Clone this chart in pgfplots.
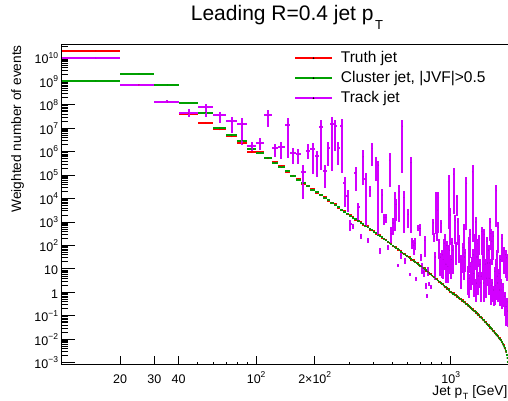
\documentclass[border=0pt]{standalone}
\usepackage{fontspec}
\setmainfont{Liberation Sans}
\usepackage{pgfplots}
\pgfplotsset{compat=1.18}
\usepackage{pgfplotstable}
\definecolor{rootred}{RGB}{255,0,0}
\definecolor{rootgreen}{RGB}{0,160,0}
\definecolor{rootmag}{RGB}{210,0,255}
\newcommand{\tsup}[1]{\raisebox{5.5bp}{\fontsize{8.5bp}{9bp}\selectfont #1}}

% bin centre, truth jet (r), cluster jet |JVF|>0.5 (g)
\pgfplotstableread{
x r g
15 2.04e10 1.07e9
25 7.08e8 2.09e9
35 1.35e8 7.08e8
45 4.17e7 1.23e8
55 1.74e7 4.57e7
65 8.91e6 1.02e7
75 4.47e6 5.13e6
85 2.29e6 2.95e6
95 9.33e5 1.29e6
105 9.53e5 8.91e5
115 5.13e5 5.37e5
125 3.46e5 3.39e5
135 2.41e5 2.19e5
145 1.38e5 1.48e5
155 9.55e4 9.55e4
165 6.91e4 6.46e4
175 4.36e4 4.57e4
185 3.38e4 3.31e4
195 2.64e4 2.40e4
205 1.69e4 1.82e4
215 1.38e4 1.38e4
225 1.14e4 1.07e4
235 8.13e3 8.51e3
245 6.74e3 6.61e3
255 5.78e3 5.25e3
265 3.88e3 4.17e3
275 3.39e3 3.39e3
285 2.94e3 2.75e3
295 2.14e3 2.24e3
305 1.90e3 1.86e3
315 1.71e3 1.55e3
325 1.20e3 1.29e3
335 1.10e3 1.10e3
345 998 933
355 758 794
365 690 676
375 648 589
385 466 501
395 437 437
405 407 380
415 316 331
425 294 288
435 276 251
445 204 219
455 191 191
465 178 166
475 138 145
485 129 126
495 123 112
505 90.9 97.7
515 87.1 87.1
525 83.0 77.6
535 66.1 69.2
545 62.9 61.7
555 60.5 55.0
565 45.6 49.0
575 43.7 43.7
585 42.6 39.8
595 33.9 35.5
605 33.0 32.4
615 31.7 28.8
625 24.5 26.3
635 24.0 24.0
645 23.4 21.9
655 19.1 20.0
665 18.6 18.2
675 18.3 16.6
685 14.0 15.1
695 13.8 13.8
705 13.5 12.6
715 11.0 11.5
725 10.7 10.5
735 10.5 9.55
745 8.10 8.71
755 7.94 7.94
765 7.75 7.24
775 6.31 6.61
785 6.15 6.03
795 6.05 5.50
805 4.77 5.13
815 4.68 4.68
825 4.57 4.27
835 3.71 3.89
845 3.70 3.63
855 3.64 3.31
865 2.81 3.02
875 2.82 2.82
885 2.75 2.57
895 2.29 2.40
905 2.23 2.19
915 2.24 2.04
925 1.73 1.86
935 1.74 1.74
945 1.69 1.58
955 1.41 1.48
965 1.38 1.35
975 1.39 1.26
985 1.07 1.15
995 1.07 1.07
1005 1.07 1.00
1015 0.912 0.955
1025 0.909 0.891
1035 0.936 0.851
1045 0.738 0.794
1055 0.759 0.759
1065 0.758 0.708
1075 0.646 0.676
1085 0.644 0.631
1095 0.648 0.589
1105 0.523 0.562
1115 0.525 0.525
1125 0.536 0.501
1135 0.447 0.468
1145 0.456 0.447
1155 0.459 0.417
1165 0.370 0.398
1175 0.372 0.372
1185 0.371 0.347
1195 0.316 0.331
1205 0.315 0.309
1215 0.325 0.295
1225 0.256 0.275
1235 0.263 0.263
1245 0.262 0.245
1255 0.223 0.234
1265 0.223 0.219
1275 0.224 0.204
1285 0.181 0.195
1295 0.182 0.182
1305 0.186 0.174
1315 0.155 0.162
1325 0.158 0.155
1335 0.160 0.145
1345 0.128 0.138
1355 0.129 0.129
1365 0.128 0.120
1375 0.110 0.115
1385 0.109 0.107
1395 0.112 0.102
1405 0.0888 0.0955
1415 0.0912 0.0912
1425 0.0911 0.0851
1435 0.0776 0.0813
1445 0.0774 0.0759
1455 0.0779 0.0708
1465 0.0629 0.0676
1475 0.0631 0.0631
1485 0.0645 0.0603
1495 0.0537 0.0562
1505 0.0548 0.0537
1515 0.0551 0.0501
1525 0.0445 0.0479
1535 0.0447 0.0447
1545 0.0446 0.0417
1555 0.0380 0.0398
1565 0.0379 0.0372
1575 0.0391 0.0355
1585 0.0308 0.0331
1595 0.0316 0.0316
1605 0.0316 0.0295
1615 0.0269 0.0282
1625 0.0268 0.0263
1635 0.0270 0.0245
1645 0.0218 0.0234
1655 0.0219 0.0219
1665 0.0224 0.0209
1675 0.0186 0.0195
1685 0.0190 0.0186
1695 0.0191 0.0174
1705 0.0154 0.0166
1715 0.0155 0.0155
1725 0.0155 0.0145
1735 0.0132 0.0138
1745 0.0132 0.0129
1755 0.0135 0.0123
1765 0.0107 0.0115
1775 0.0110 0.0110
1785 0.0109 0.0102
1795 0.00933 0.00977
1805 0.00930 0.00912
1815 0.00936 0.00851
1825 0.00738 0.00794
1835 0.00724 0.00724
1845 0.00707 0.00661
1855 0.00576 0.00603
1865 0.00561 0.00550
1875 0.00551 0.00501
1885 0.00425 0.00457
1895 0.00417 0.00417
1905 0.00398 0.00372
1915 0.00309 0.00324
1925 0.00275 0.00275
1935 nan 0.00219
1945 nan 0.00158
1955 nan 0.00105
1965 nan 0.00063
}\truthtab

% track jet: bin centre, value, relative upper and lower errors
\pgfplotstableread{
x y ep em
15 9.77e9 0.01 0.01
25 7.08e8 0.02 0.02
35 1.35e8 0.15 0.13
45 4.47e7 0.45 0.34
55 7.76e7 0.38 0.62
65 3.55e7 0.38 0.54
75 1.95e7 0.58 0.69
85 1.51e7 0.74 0.87
95 1.74e6 0.45 0.37
105 2.24e6 0.66 0.48
115 3.63e7 0.66 0.68
125 1.38e6 0.51 0.58
135 1.51e6 0.78 0.69
145 1.38e7 0.91 0.96
155 8.91e5 0.55 0.67
165 7.94e5 0.58 0.63
175 1.38e5 0.95 0.93
185 1.10e6 0.95 0.57
195 1.26e6 0.95 0.91
205 6.46e5 0.74 0.87
215 1.15e7 0.95 0.986
225 1.51e5 0.78 0.82
235 1.38e6 0.95 0.83
245 1.51e7 0.95 0.99
255 1.23e7 0.82 0.91
265 1.38e6 0.95 0.80
275 1.29e7 0.86 0.99
285 4.47e4 0.78 0.90
295 1.26e4 0.82 0.79
305 813 0.48 0.50
315 661 0.25 0.25
325 1.26e5 0.82 0.83
335 4.17e3 0.58 0.70
345 245 0.2 0.2
355 6.03e5 0.95 0.94
365 6.61e4 0.95 0.99
375 166 0.2 0.2
385 2.29e4 0.5 0.5
395 1.38e6 0.74 0.83
415 3.39e5 0.70 0.84
425 2.69e5 0.5 0.999
435 61.7 0.3 0.3
445 1.41e4 0.74 0.83
455 1.55e3 0.45 0.5
465 1.58e3 0.4 0.45
475 87.1 0.25 0.25
485 4.37e5 0.95 0.93
495 316 0.9 0.6
505 912 0.6 0.7
515 1.0e4 0.95 0.96
525 5.75e3 0.6 0.8
535 14.1 0.15 0.15
545 1.95e4 0.9 0.95
555 38.0 0.3 0.3
565 1.23e7 0.82 0.99
575 1.12e4 0.95 0.97
585 23.4 0.3 0.3
605 2.14e3 0.6 0.75
615 5.89 0.15 0.15
625 3.39e5 0.78 0.999
635 141 0.5 0.5
645 102 0.6 0.6
655 126 0.6 0.5
665 3.89 0.2 0.2
675 589 0.3 0.3
695 525 0.5 0.5
705 32.4 0.3 0.3
715 12.0 0.5 0.5
725 7.41 0.4 0.4
735 166 0.6 0.8
745 2.0 0.3 0.3
755 0.741 0.2 0.2
765 8.71 0.4 0.4
775 2.34 0.2 0.2
795 1.70 0.2 0.2
815 912 0.5 0.7
825 245 0.4 0.4
835 32.4 0.7 0.9
845 1.0e4 0.9 0.97
855 3.16e3 0.6 0.95
865 1.12e4 0.74 0.97
875 130 0.5 0.8
885 31.6 0.5 0.85
895 891 0.4 0.6
905 40 0.6 0.9
915 25 0.5 0.85
925 126 0.5 0.85
935 178 0.8 0.95
945 16 0.5 0.85
955 100 0.6 0.9
965 12.6 0.4 0.8
975 5.25e4 0.9 0.99
985 63 0.6 0.9
995 2.0e3 0.9 0.95
1005 25 0.5 0.85
1015 130 0.6 0.9
1025 63 0.6 0.9
1035 1.10e5 0.75 0.98
1055 1.20e3 0.6 0.9
1065 94 0.5 0.85
1075 1.17e4 0.25 0.85
1085 1.0e3 0.5 0.9
1105 179 0.6 0.9
1125 25 0.6 0.9
1135 9.4 0.5 0.85
1155 80 0.6 0.92
1165 500 0.6 0.92
1175 32 0.6 0.9
1185 48 0.5 0.85
1205 4.47e4 0.8 0.99
1225 8.0 0.6 0.9
1235 130 0.7 0.95
1245 4.0 0.5 0.85
1255 300 0.6 0.9
1265 12.6 0.6 0.9
1285 20 0.6 0.9
1295 1.38e5 0.95 0.999
1305 40 0.7 0.92
1315 6.3 0.6 0.9
1325 179 0.8 0.95
1345 1.0e3 0.6 0.95
1355 2.5 0.5 0.85
1365 32 0.6 0.9
1375 120 0.5 0.9
1385 5.0 0.5 0.85
1405 200 0.4 0.8
1415 16 0.6 0.9
1425 2.5 0.5 0.85
1435 4.9 0.5 0.85
1445 400 0.6 0.9
1465 32 0.6 0.9
1475 2.5 0.5 0.85
1485 300 0.6 0.92
1505 16 0.6 0.9
1525 4.0 0.5 0.85
1535 150 0.6 0.9
1545 18 0.6 0.9
1565 63 0.6 0.92
1575 4.0 0.5 0.8
1585 18 0.5 0.85
1595 1.0e3 0.5 0.85
1605 324 0.5 0.8
1615 2.0 0.5 0.85
1625 150 0.6 0.9
1635 2.5 0.5 0.85
1655 250 0.6 0.9
1665 1.26 0.5 0.8
1685 8.0 0.5 0.85
1695 2.0 0.5 0.85
1705 16 0.6 0.9
1715 2.14e4 0.8 0.97
1725 40 0.6 0.9
1735 4.9 0.6 0.9
1745 2.5 0.5 0.85
1755 600 0.6 0.92
1775 6.3 0.5 0.85
1785 1.26 0.5 0.8
1795 25 0.6 0.9
1815 2.5 0.5 0.85
1825 1.3 0.5 0.85
1835 200 0.6 0.9
1865 1.6 0.5 0.85
1885 60 0.5 0.9
1895 0.68 0.5 0.85
1915 40 0.6 0.9
1925 0.25 0.5 0.85
1935 30 0.5 0.9
1955 0.4 0.5 0.85
1965 0.16 0.5 0.8
}\tracktab

\begin{document}
\begin{tikzpicture}
\useasboundingbox (0,0) rectangle (508bp,401bp);
\begin{axis}[
  at={(61.5bp,36.7bp)}, anchor=south west,
  scale only axis, width=447.8bp, height=320.3bp,
  xmode=log, ymode=log,
  xmin=10, xmax=2000, ymin=8.51e-4, ymax=3.93e10,
  axis line style={line width=0.9bp},
  every tick/.style={black, line width=0.8bp},
  major tick length=14bp, minor tick length=6.7bp,
  xtick style={/pgfplots/major tick length=8bp, /pgfplots/minor tick length=2.7bp},
  tick align=inside, xtick pos=bottom, ytick pos=left,
  xtick={100,1000}, xticklabels={10\tsup{2},10\tsup{3}},
  extra x ticks={20,30,40,200}, extra x tick labels={20,30,40,2×10\tsup{2}},
  extra x tick style={/pgfplots/major tick length=4.3bp},
  minor xtick={50,60,70,80,90,300,400,500,600,700,800,900},
  xticklabel style={anchor=base, yshift=-19bp, font=\fontsize{12.5bp}{14bp}\selectfont},
  ytick={1e-3,1e-2,1e-1,1,10,100,1e3,1e4,1e5,1e6,1e7,1e8,1e9,1e10},
  yticklabels={10\tsup{−3},10\tsup{−2},10\tsup{−1},1,10,10\tsup{2},10\tsup{3},10\tsup{4},10\tsup{5},10\tsup{6},10\tsup{7},10\tsup{8},10\tsup{9},10\tsup{10}},
  minor ytick={2e-3,3e-3,4e-3,5e-3,6e-3,7e-3,8e-3,9e-3,
    2e-2,3e-2,4e-2,5e-2,6e-2,7e-2,8e-2,9e-2,
    2e-1,3e-1,4e-1,5e-1,6e-1,7e-1,8e-1,9e-1,
    2,3,4,5,6,7,8,9,20,30,40,50,60,70,80,90,
    200,300,400,500,600,700,800,900,
    2e3,3e3,4e3,5e3,6e3,7e3,8e3,9e3,
    2e4,3e4,4e4,5e4,6e4,7e4,8e4,9e4,
    2e5,3e5,4e5,5e5,6e5,7e5,8e5,9e5,
    2e6,3e6,4e6,5e6,6e6,7e6,8e6,9e6,
    2e7,3e7,4e7,5e7,6e7,7e7,8e7,9e7,
    2e8,3e8,4e8,5e8,6e8,7e8,8e8,9e8,
    2e9,3e9,4e9,5e9,6e9,7e9,8e9,9e9,
    2e10,3e10},
  yticklabel style={anchor=base east, yshift=-5.8bp, font=\fontsize{12.5bp}{14bp}\selectfont},
  title={Leading R=0.4 jet p\hspace{1.5bp}\raisebox{-8.3bp}{\fontsize{13bp}{14bp}\selectfont T}},
  title style={at={(axis description cs:0.2885,1.054)}, anchor=base west, inner sep=0pt, font=\fontsize{21bp}{24bp}\selectfont},
  xlabel={Jet p\hspace{0.8bp}\raisebox{-3.5bp}{\fontsize{9bp}{10bp}\selectfont T} [GeV]},
  xlabel style={at={(axis description cs:0.996,-0.0975)}, anchor=base east, inner sep=0pt, font=\fontsize{13.7bp}{15bp}\selectfont},
  ylabel={Weighted number of events},
  ylabel style={at={(axis description cs:-0.0904,0.9969)}, anchor=base east, inner sep=0pt, font=\fontsize{13.7bp}{15bp}\selectfont},
  legend style={draw=none, fill=none, inner sep=0pt, outer sep=0pt,
    at={(axis description cs:0.5192,0.976)}, anchor=north west,
    row sep=6bp, cells={anchor=base west},
    nodes={inner sep=0pt, text height=11bp, text depth=3bp, font=\fontsize{15.5bp}{18bp}\selectfont}},
]
\addplot[rootred, forget plot, only marks, mark=*, mark size=0.35bp, mark options={draw=none, fill=black},
  error bars/.cd, x dir=both, x fixed=5, error mark=none,
  error bar style={rootred, line width=2bp}]
  table[x=x, y=r] {\truthtab};
\addplot[rootgreen, forget plot, only marks, mark=*, mark size=0.35bp, mark options={draw=none, fill=black},
  error bars/.cd, x dir=both, x fixed=5, error mark=none,
  error bar style={rootgreen, line width=2bp}]
  table[x=x, y=g] {\truthtab};
\addplot[rootmag, forget plot, only marks, mark=*, mark size=0.35bp, mark options={draw=none, fill=black},
  error bars/.cd, x dir=both, x fixed=5, y dir=both, y explicit relative, error mark=none,
  error bar style={rootmag, line width=2bp}]
  table[x=x, y=y, y error plus=ep, y error minus=em] {\tracktab};
\addlegendimage{legend image code/.code={\draw[rootred, line width=2bp] (0bp,4.4bp) -- (37bp,4.4bp); \fill[black] (18.5bp,4.4bp) circle (0.6bp); \path (45.7bp,0bp);}}
\addlegendentry{Truth jet}
\addlegendimage{legend image code/.code={\draw[rootgreen, line width=2bp] (0bp,4.4bp) -- (37bp,4.4bp); \fill[black] (18.5bp,4.4bp) circle (0.6bp); \path (45.7bp,0bp);}}
\addlegendentry{Cluster jet, |JVF|>0.5}
\addlegendimage{legend image code/.code={\draw[rootmag, line width=2bp] (0bp,4.4bp) -- (37bp,4.4bp); \fill[black] (18.5bp,4.4bp) circle (0.6bp); \path (45.7bp,0bp);}}
\addlegendentry{Track jet}
\end{axis}
\end{tikzpicture}
\end{document}
